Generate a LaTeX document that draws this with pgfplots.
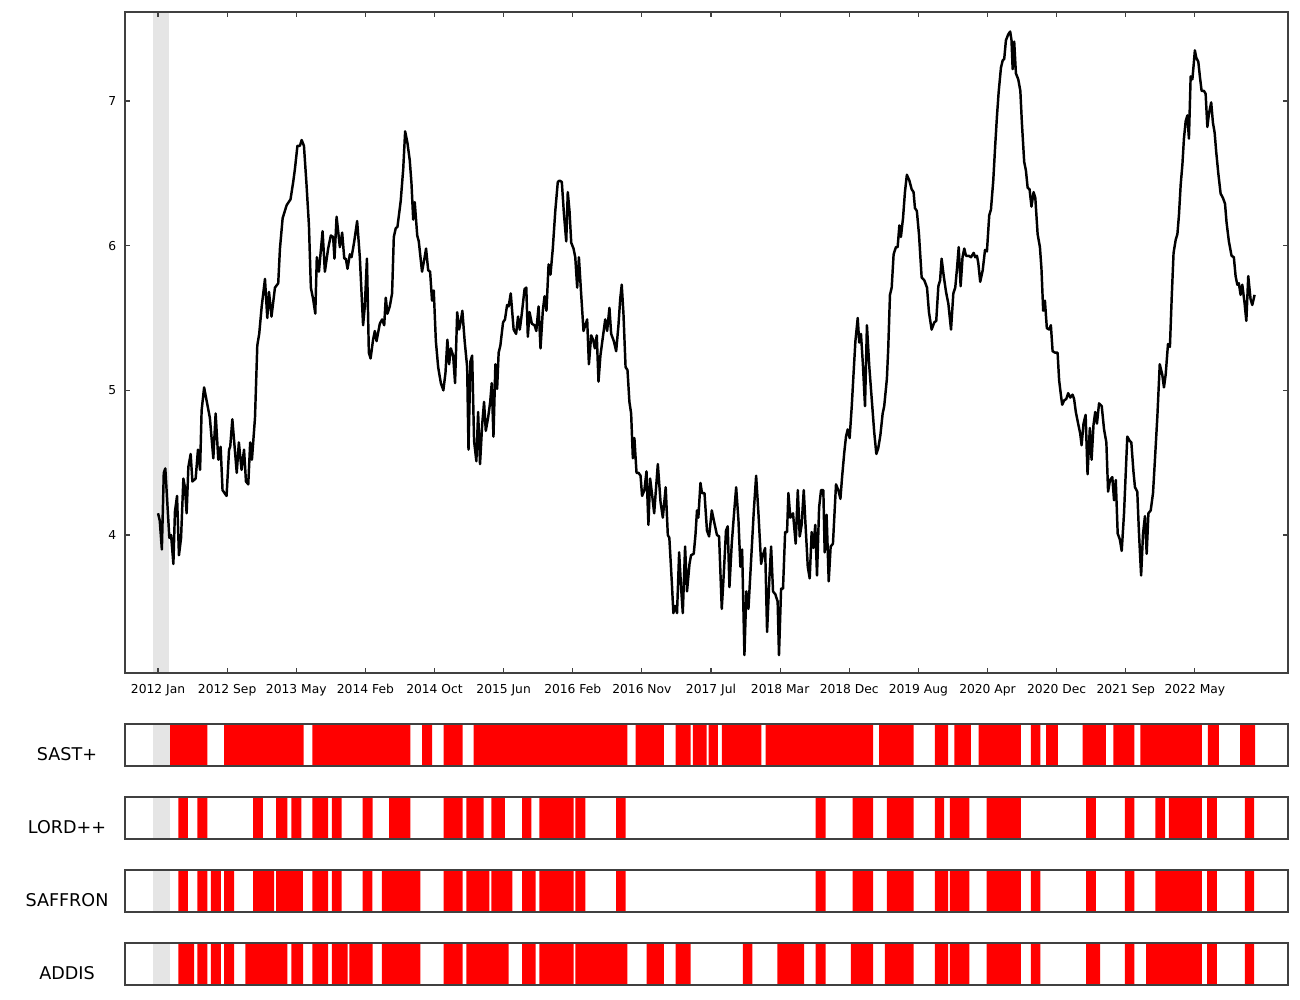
\documentclass[border=0pt]{standalone}
\usepackage{pgfplots}
\pgfplotsset{compat=1.18}
\usepackage{fontspec}
\setmainfont{DejaVu Sans}
\begin{document}
\begin{tikzpicture}
\pgfplotsset{
  base/.style={scale only axis, width=23.26cm, xmin=-17.2, xmax=588.5,
    axis line style={black!75, line width=0.6pt}, anchor=north west,
    /pgf/number format/assume math mode=true},
  strip/.style={base, height=0.84cm, ymin=0, ymax=1, xtick=\empty, ytick=\empty, axis on top, clip=false},
}
\tikzset{lab/.style={font=\fontsize{10}{12}\selectfont, xshift=-1.16cm, yshift=-0.18cm}}
\path[use as bounding box] (-2.5cm,0.24cm) rectangle (23.5cm,-19.76cm);
\begin{axis}[base, at={(0cm,0cm)}, height=13.22cm, ymin=3.046, ymax=7.615,
  ytick={4,5,6,7}, xtick={0,36,...,540},
  xticklabels={2012 Jan,2012 Sep,2013 May,2014 Feb,2014 Oct,2015 Jun,2016 Feb,2016 Nov,2017 Jul,2018 Mar,2018 Dec,2019 Aug,2020 Apr,2020 Dec,2021 Sep,2022 May},
  tick style={black!75, line width=0.6pt}, major tick length=0.1cm,
  tick label style={font=\fontsize{7}{9}\selectfont},
  xticklabel style={yshift=-0.1cm}, yticklabel style={xshift=-0.05cm}, axis on top]
\addplot[draw=none, fill=black!10] coordinates {(-2.6,7.615) (5.5,7.615)} \closedcycle;
\addplot[black, line width=1.4pt, line join=round] coordinates {
(0,4.15)(0.9,4.10)(2,3.90)(3,4.43)(3.8,4.46)(5.9,3.98)(6.8,4.0)(8,3.80)(8.8,4.16)(9.9,4.27)(10.9,3.86)(12,3.98)(13.2,4.39)(14,4.33)(14.9,4.15)(15.8,4.47)(17,4.56)(17.9,4.37)(19.6,4.39)(20.8,4.59)(21.9,4.45)(22.7,4.86)(24,5.02)(27,4.81)(28.8,4.53)(30,4.84)(31.4,4.52)(32.6,4.61)(33.6,4.31)(35.7,4.27)(37,4.59)(37.6,4.61)(38.7,4.80)(41,4.43)(42.1,4.64)(43.5,4.45)(44.8,4.59)(45.8,4.37)(47,4.35)(48,4.64)(48.9,4.52)(50.5,4.81)(51.7,5.31)(52.7,5.39)(54,5.58)(55.7,5.77)(56.9,5.50)(57.8,5.68)(59.1,5.51)(60.9,5.71)(62.6,5.74)(63.5,5.98)(64.9,6.19)(67,6.28)(69,6.32)(70.4,6.44)(71.3,6.53)(72.6,6.69)(73.9,6.69)(74.8,6.73)(76,6.69)(77.3,6.43)(78.6,6.14)(79.6,5.71)(80.8,5.63)(81.9,5.53)(82.7,5.92)(83.8,5.82)(85.7,6.10)(86.9,5.82)(88.6,5.98)(90,6.07)(91.2,6.06)(91.9,5.91)
(93,6.20)(94.7,5.99)(95.9,6.09)(97,5.91)(97.8,5.91)(98.7,5.84)(99.9,5.94)(100.8,5.92)(102.2,6.03)(103.7,6.17)(105.1,5.92)(106.8,5.45)(107.7,5.58)(108.8,5.91)(109.8,5.26)(110.7,5.22)(112,5.35)(112.9,5.41)(113.8,5.34)(115.5,5.46)(116.7,5.49)(117.8,5.45)(118.6,5.64)(119.5,5.53)(120.7,5.58)(121.9,5.67)(122.8,6.06)(123.8,6.12)(124.7,6.13)(126.4,6.31)(127.7,6.53)(128.7,6.79)(129.9,6.71)(131.1,6.59)(132,6.43)(132.9,6.18)(133.7,6.30)(135,6.07)(135.8,6.03)(137.5,5.82)(138.6,5.90)(139.6,5.98)(140.7,5.83)(141.7,5.82)(142.7,5.62)(143.6,5.69)(144.7,5.34)(145.9,5.16)(147.3,5.05)(148.6,5.00)(149.7,5.12)(150.7,5.35)(151.6,5.18)(152.5,5.29)(153.7,5.24)(154.7,5.05)(155.8,5.54)(156.8,5.42)(157.7,5.48)(158.5,5.55)(159.7,5.34)(161,5.16)(161.7,4.59)(162.7,5.20)(163.6,5.24)(164.6,4.65)(165.8,4.51)(166.7,4.85)(167.7,4.49)(168.8,4.76)(169.8,4.92)(170.7,4.72)(171.9,4.81)(173,4.92)(173.8,5.05)(174.7,4.68)(175.7,5.18)(176.6,5.01)(177.4,5.26)(178.3,5.31)(179.7,5.47)(180.7,5.49)(181.8,5.59)(182.6,5.58)(183.7,5.67)(185.2,5.42)(186.5,5.39)(187.5,5.51)(188.4,5.42)(189.2,5.50)
(190.9,5.70)(191.8,5.71)(192.6,5.37)(193.5,5.54)(194.7,5.46)(196.1,5.45)(197,5.41)(198.2,5.58)(199.2,5.29)(200.4,5.55)(201.3,5.65)(202.3,5.55)(203.4,5.87)(204.4,5.80)(205.6,5.98)(206.9,6.24)(208.2,6.44)(209.1,6.45)(210.3,6.44)(211.4,6.22)(212.6,6.03)(213.4,6.37)(214.3,6.24)(215.2,6.02)(216.4,5.98)(217.3,5.92)(218.3,5.71)(219.2,5.92)(220.4,5.66)(221.6,5.41)(222.5,5.45)(223.5,5.49)(224.4,5.18)(225.6,5.38)(226.6,5.35)(227.5,5.29)(228.5,5.38)(229.4,5.06)(230.4,5.24)(231.7,5.37)(232.9,5.49)(233.9,5.41)(235.1,5.57)(236,5.39)(237.4,5.34)(238.6,5.27)(239.8,5.45)(240.7,5.63)(241.5,5.73)(242.4,5.53)(243.5,5.16)(244.5,5.14)(245.5,4.92)(246.4,4.84)(247.3,4.53)(248.1,4.67)(249.2,4.43)(250.2,4.43)(251.3,4.41)(252.1,4.27)(253.3,4.31)(254.4,4.44)(255.4,4.07)(256.3,4.39)(257.3,4.28)(258.4,4.15)(259.4,4.33)(260.3,4.49)(261.7,4.23)(262.9,4.12)(264.4,4.33)(265.5,4.00)(266.3,3.98)(267.6,3.67)(268.4,3.46)(269.3,3.51)(270.3,3.46)(271.4,3.88)(272.4,3.64)(273.3,3.46)(274.5,3.92)(275.5,3.61)(276.8,3.80)(277.6,3.86)(279,3.87)(279.9,4.00)(280.7,4.17)(281.4,4.12)(282.5,4.36)(283.3,4.29)(284.6,4.29)(285.9,4.03)(287,3.99)(288.4,4.17)(289.8,4.08)(291.1,4.00)(292.2,3.99)(293.6,3.49)(294.6,3.72)(295.8,4.03)(296.7,4.06)(297.6,3.64)(298.8,3.94)(300,4.15)
(301.1,4.33)(302.3,4.10)(303.3,3.78)(304.2,3.90)(305.4,3.17)(306.4,3.61)(307.5,3.49)(308.9,3.83)(310.3,4.17)(311.5,4.41)(312.7,4.15)(314.1,3.80)(315,3.86)(316.2,3.91)(317.2,3.33)(318.4,3.70)(319.3,3.92)(320.3,3.61)(321.5,3.59)(322.7,3.54)(323.4,3.17)(324.5,3.63)(325.5,3.63)(326.6,4.02)(327.6,4.02)(328.3,4.29)(329.3,4.12)(330.7,4.15)(332.1,3.94)(333.2,4.31)(334.2,3.99)(335.2,4.07)(336.3,4.31)(337.1,4.10)(338.4,3.78)(339.4,3.70)(340.4,4.02)(341.3,3.91)(342.3,4.07)(343.2,3.72)(344.3,4.19)(345.3,4.31)(346.5,4.31)(347.2,3.88)(348.2,4.14)(349.3,3.68)(350.3,3.92)(351.5,3.94)(353.1,4.35)(354.3,4.31)(355.4,4.25)(356.2,4.39)(357.4,4.57)(358.3,4.68)(359.2,4.73)(360.2,4.67)(361.3,4.89)(362.3,5.13)(363.2,5.34)(364.4,5.50)(365.2,5.33)(366.1,5.39)(367.1,5.18)(368.2,4.89)(369.2,5.45)(370.4,5.17)(371.7,4.94)(373,4.71)(374.1,4.56)(375.1,4.60)(376.2,4.69)(377.4,4.84)(378.2,4.89)(379.6,5.08)(380.3,5.29)(381.2,5.66)(382.1,5.71)(383.1,5.94)(384.3,5.99)(385.2,5.99)(386.1,6.14)(386.9,6.06)(388,6.19)(389,6.37)(390,6.49)(391.3,6.45)(392.5,6.39)(393.5,6.37)(394.2,6.26)(395.2,6.24)(396.3,6.08)(397.7,5.78)
(399.1,5.76)(400.5,5.71)(401.5,5.54)(402.9,5.42)(404.3,5.47)(405.3,5.48)(406.4,5.72)(407.3,5.76)(408.1,5.91)(409.2,5.79)(410.4,5.68)(411.6,5.60)(413,5.42)(414.2,5.67)(415.2,5.71)(416.1,5.84)(417,5.99)(418,5.72)(419,5.92)(419.9,5.98)(420.8,5.93)(422.2,5.93)(423.4,5.92)(424.8,5.95)(425.6,5.92)(426.5,5.93)(427.2,5.88)(428.2,5.75)(429.5,5.83)(430.7,5.97)(431.7,5.96)(432.9,6.21)(433.8,6.25)(435,6.45)(436,6.69)(436.9,6.89)(437.8,7.06)(439,7.23)(439.9,7.28)(440.7,7.29)(441.6,7.42)(442.8,7.46)(443.8,7.48)(444.5,7.42)(445.1,7.22)(445.9,7.41)(446.8,7.19)(448,7.15)(449.1,7.07)(449.9,6.85)(451.1,6.58)(452,6.52)(452.9,6.40)(453.9,6.39)(454.9,6.27)(456,6.37)(456.9,6.33)(458.1,6.08)(459.3,5.99)(460.1,5.84)(461,5.55)(461.9,5.62)(462.9,5.43)(464.1,5.42)(465,5.45)(465.9,5.27)(467.3,5.26)(468.5,5.26)(469.3,5.07)(470.2,4.97)(470.9,4.90)(471.9,4.93)(473,4.94)(474,4.98)(475.1,4.95)(476.3,4.97)(477.1,4.94)(478,4.85)(479.2,4.77)(480.3,4.70)(481,4.62)(482,4.77)(483.1,4.83)(484.1,4.42)(485.3,4.74)(486.2,4.52)(487.2,4.76)(488.1,4.85)(489,4.77)
(490.1,4.91)(491.5,4.89)(492.7,4.73)(493.9,4.64)(494.8,4.30)(495.8,4.38)(497,4.40)(497.9,4.24)(498.8,4.38)(499.8,4.01)(500.9,3.97)(501.9,3.89)(503.1,4.15)(504.8,4.68)(506.1,4.65)(506.9,4.64)(508,4.44)(508.8,4.33)(510,4.30)(510.9,4.01)(512,3.72)(513,4.01)(514,4.13)(514.9,3.87)(515.8,4.15)(517,4.17)(518.2,4.29)(519.2,4.52)(520.5,4.83)(521.7,5.18)(523,5.11)(523.9,5.02)(524.8,5.11)(526,5.32)(527,5.30)(527.9,5.63)(528.9,5.95)(530,6.04)(530.9,6.08)(531.7,6.21)(532.6,6.42)(533.5,6.56)(534.3,6.74)(535.2,6.86)(536.1,6.90)(536.9,6.74)(537.8,7.17)(538.7,7.15)(539.5,7.27)(540,7.35)(540.7,7.30)(541.8,7.27)(542.6,7.17)(543.5,7.07)(544.7,7.07)(545.6,7.05)(546.5,6.82)(547.3,6.91)(548.5,6.99)(549.4,6.85)(550.3,6.78)(551.1,6.65)(552.2,6.50)(553.4,6.36)(554.6,6.33)(555.7,6.29)(556.5,6.16)(557.7,6.03)(559.1,5.93)(560.3,5.92)(561.2,5.79)(562.1,5.73)(562.9,5.74)(563.8,5.66)(564.7,5.73)(565.9,5.60)(566.8,5.48)(567.8,5.79)(569,5.63)(569.9,5.59)(571.1,5.66)
};
\end{axis}

\begin{axis}[strip, at={(0cm,-14.24cm)}]
\addplot[draw=none, fill=black!10] coordinates {(-2.6,1) (6.2,1)} \closedcycle;
\addplot[const plot, draw=none, fill=red] coordinates {
(6.3,1)(25.7,0)(34.4,1)(75.8,0)(80.4,1)(131.4,0)(137.5,1)(142.7,0)(148.7,1)(158.7,0)(164.4,1)(244.4,0)(248.7,1)(263.5,0)(269.6,1)(277.4,0)(278.6,1)(285.7,0)(286.8,1)(291.6,0)(293.7,1)(314.2,0)(316.5,1)(372.4,0)(375.5,1)(393.5,0)(404.6,1)(411.5,0)(414.7,1)(423.4,0)(427.4,1)(449.4,0)(454.6,1)(459.5,0)(462.5,1)(468.6,0)(481.6,1)(493.6,0)(497.5,1)(508.5,0)(511.6,1)(543.6,0)(546.8,1)(552.5,0)(563.6,1)(571.4,0)
} \closedcycle;
\node[lab] at (rel axis cs:0,0.5) {SAST+};
\end{axis}

\begin{axis}[strip, at={(0cm,-15.70cm)}]
\addplot[draw=none, fill=black!10] coordinates {(-2.6,1) (6.2,1)} \closedcycle;
\addplot[const plot, draw=none, fill=red] coordinates {
(10.6,1)(15.6,0)(20.5,1)(25.7,0)(49.5,1)(54.6,0)(61.5,1)(67.4,0)(69.5,1)(74.6,0)(80.4,1)(88.6,0)(90.6,1)(95.6,0)(106.5,1)(111.7,0)(120.4,1)(131.4,0)(148.7,1)(158.7,0)(160.6,1)(169.6,0)(173.6,1)(180.6,0)(189.6,1)(194.5,0)(198.6,1)(216.5,0)(217.4,1)(222.6,0)(238.6,1)(243.5,0)(342.5,1)(347.7,0)(361.7,1)(372.4,0)(379.6,1)(393.5,0)(404.6,1)(409.4,0)(412.4,1)(422.5,0)(431.5,1)(449.4,0)(483.3,1)(488.5,0)(503.6,1)(508.5,0)(519.4,1)(524.5,0)(526.4,1)(543.6,0)(546.4,1)(551.5,0)(566.1,1)(570.8,0)
} \closedcycle;
\node[lab] at (rel axis cs:0,0.5) {LORD++};
\end{axis}

\begin{axis}[strip, at={(0cm,-17.16cm)}]
\addplot[draw=none, fill=black!10] coordinates {(-2.6,1) (6.2,1)} \closedcycle;
\addplot[const plot, draw=none, fill=red] coordinates {
(10.6,1)(15.6,0)(20.5,1)(25.7,0)(27.5,1)(32.7,0)(34.4,1)(39.6,0)(49.5,1)(60.5,0)(61.5,1)(75.4,0)(80.4,1)(88.6,0)(90.6,1)(95.6,0)(106.5,1)(111.7,0)(116.6,1)(136.6,0)(148.7,1)(158.7,0)(160.6,1)(172.6,0)(173.6,1)(184.6,0)(189.6,1)(196.6,0)(198.6,1)(216.5,0)(217.4,1)(222.6,0)(238.6,1)(243.5,0)(342.5,1)(347.7,0)(361.7,1)(372.4,0)(379.6,1)(393.5,0)(404.6,1)(411.5,0)(412.4,1)(422.5,0)(431.5,1)(449.4,0)(454.6,1)(459.5,0)(483.3,1)(488.5,0)(503.6,1)(508.5,0)(519.4,1)(543.6,0)(546.4,1)(551.5,0)(566.1,1)(570.8,0)
} \closedcycle;
\node[lab] at (rel axis cs:0,0.5) {SAFFRON};
\end{axis}

\begin{axis}[strip, at={(0cm,-18.62cm)}]
\addplot[draw=none, fill=black!10] coordinates {(-2.6,1) (6.2,1)} \closedcycle;
\addplot[const plot, draw=none, fill=red] coordinates {
(10.6,1)(18.8,0)(20.5,1)(25.7,0)(27.5,1)(32.7,0)(34.4,1)(39.6,0)(45.5,1)(67.4,0)(69.5,1)(75.6,0)(80.4,1)(88.6,0)(90.6,1)(98.7,0)(99.6,1)(111.7,0)(116.6,1)(136.6,0)(148.7,1)(158.7,0)(160.6,1)(182.6,0)(189.6,1)(196.6,0)(198.6,1)(216.5,0)(217.4,1)(244.4,0)(254.4,1)(263.5,0)(269.6,1)(277.4,0)(304.6,1)(309.5,0)(322.6,1)(336.5,0)(342.5,1)(347.7,0)(360.8,1)(372.4,0)(378.5,1)(393.5,0)(404.6,1)(411.5,0)(412.4,1)(422.5,0)(431.5,1)(449.4,0)(454.6,1)(459.5,0)(483.3,1)(490.6,0)(503.6,1)(508.5,0)(514.6,1)(543.6,0)(546.4,1)(551.5,0)(566.1,1)(570.8,0)
} \closedcycle;
\node[lab] at (rel axis cs:0,0.5) {ADDIS};
\end{axis}
\end{tikzpicture}
\end{document}
